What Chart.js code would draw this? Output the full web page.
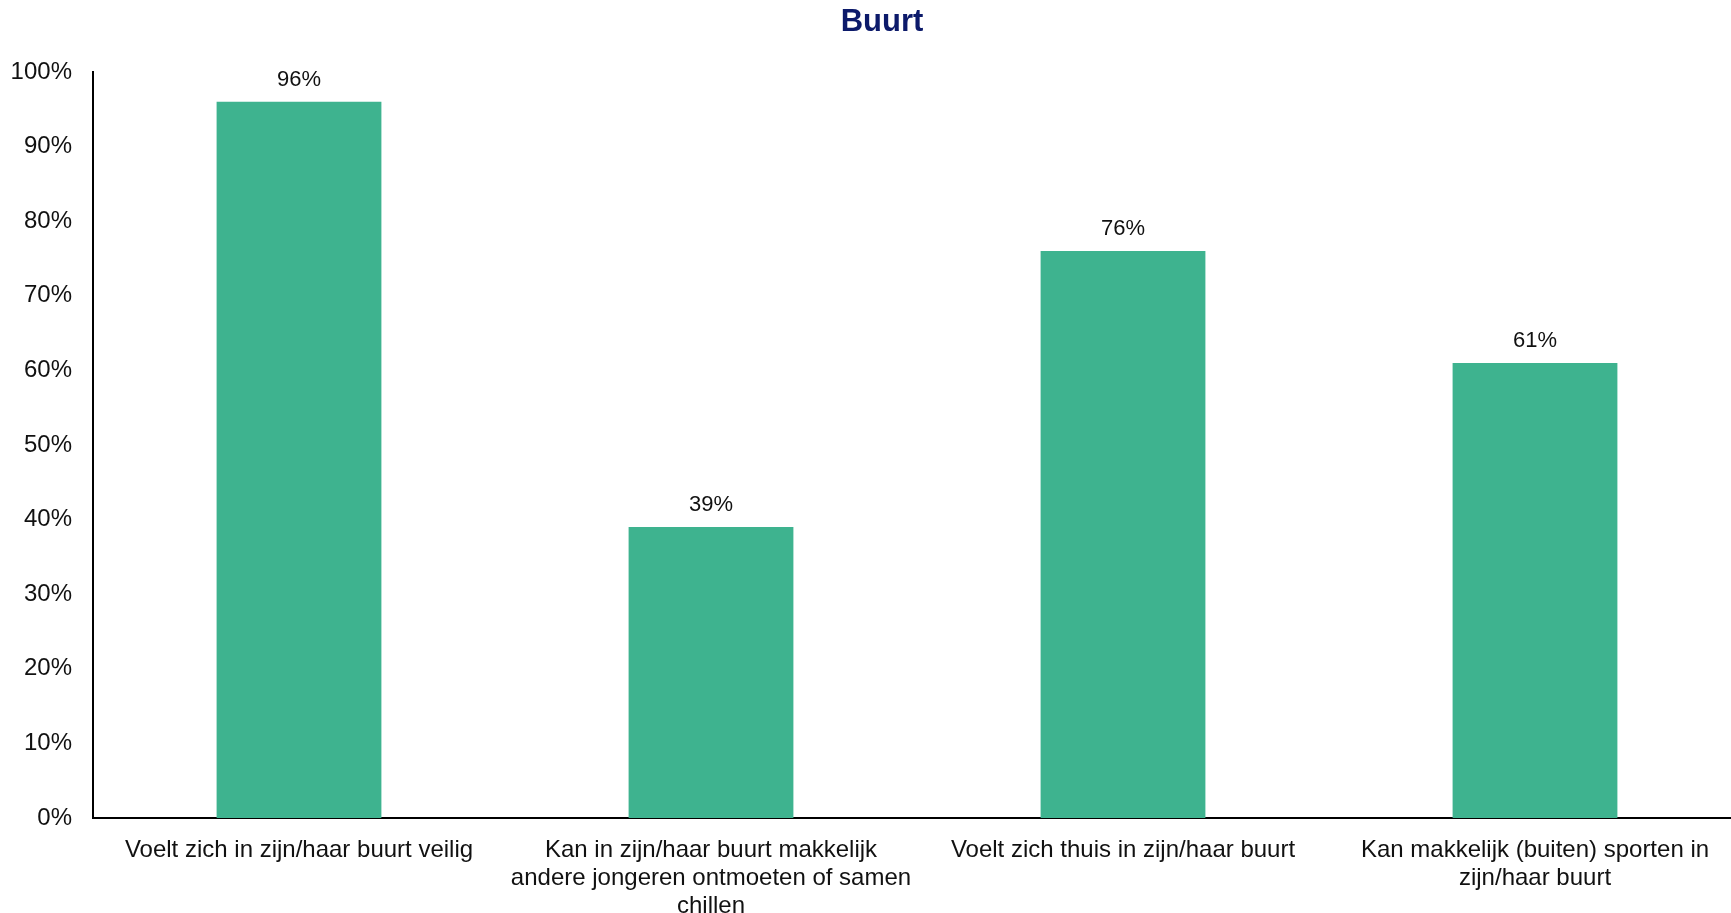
<!DOCTYPE html>
<html>
<head>
<meta charset="utf-8">
<script src="https://cdn.jsdelivr.net/npm/chart.js@4.4.1/dist/chart.umd.min.js"></script>
<style>
    html, body { margin: 0; padding: 0; background: #ffffff; overflow: hidden; }
    /* plot area runs slightly past the right edge of the window, as in the reference */
    #wrap { width: 1741px; height: 913px; position: relative; }
</style>
</head>
<body>
<div id="wrap"><canvas id="buurtChart"></canvas></div>
<script>
// Data
const categories = [
    'Voelt zich in zijn/haar buurt veilig',
    ['Kan in zijn/haar buurt makkelijk', 'andere jongeren ontmoeten of samen', 'chillen'],
    'Voelt zich thuis in zijn/haar buurt',
    ['Kan makkelijk (buiten) sporten in', 'zijn/haar buurt']
];
const percentages = [96, 39, 76, 61];
const yTicks = [0, 10, 20, 30, 40, 50, 60, 70, 80, 90, 100];
const chartTitle = 'Buurt';

const FONT = '"Liberation Sans", Arial, Helvetica, sans-serif';

// Draws the value labels above the bars and the title
const valueLabels = {
    id: 'valueLabels',
    afterDatasetsDraw(chart) {
        const ctx = chart.ctx;
        const meta = chart.getDatasetMeta(0);
        ctx.save();
        ctx.font = '22px ' + FONT;
        ctx.fillStyle = '#111111';
        ctx.textAlign = 'center';
        ctx.textBaseline = 'middle';
        meta.data.forEach((bar, i) => {
            ctx.fillText(percentages[i] + '%', bar.x, bar.y - 22);
        });
        ctx.restore();
    },
    afterDraw(chart) {
        const ctx = chart.ctx;
        ctx.save();
        ctx.font = 'bold 31px ' + FONT;
        ctx.fillStyle = '#0c1a6a';
        ctx.textAlign = 'center';
        ctx.textBaseline = 'middle';
        ctx.fillText(chartTitle, 882, 22);
        ctx.restore();
    }
};

new Chart(document.getElementById('buurtChart'), {
    type: 'bar',
    data: {
        labels: categories,
        datasets: [{
            data: percentages,
            backgroundColor: '#3eb38f',
            borderWidth: 0,
            categoryPercentage: 1.0,
            barPercentage: 0.4
        }]
    },
    options: {
        responsive: true,
        maintainAspectRatio: false,
        animation: false,
        layout: {
            padding: { top: 72, right: 0, left: 0, bottom: 0 }
        },
        plugins: {
            legend: { display: false },
            tooltip: { enabled: false },
            title: { display: false }
        },
        scales: {
            x: {
                grid: { display: false },
                border: { display: true, color: '#000000', width: 2 },
                ticks: {
                    color: '#111111',
                    padding: 11,
                    maxRotation: 0,
                    autoSkip: false,
                    font: { family: FONT, size: 24, lineHeight: 1.15 }
                },
                afterFit(scale) { scale.height = 95; }
            },
            y: {
                min: 0,
                max: 100,
                grid: { display: false },
                border: { display: true, color: '#000000', width: 2 },
                afterBuildTicks(scale) {
                    scale.ticks = yTicks.map(v => ({ value: v }));
                },
                ticks: {
                    color: '#111111',
                    padding: 13,
                    font: { family: FONT, size: 24 },
                    callback: v => v + '%'
                },
                afterFit(scale) { scale.width = 93; }
            }
        }
    },
    plugins: [valueLabels]
});
</script>
</body>
</html>
